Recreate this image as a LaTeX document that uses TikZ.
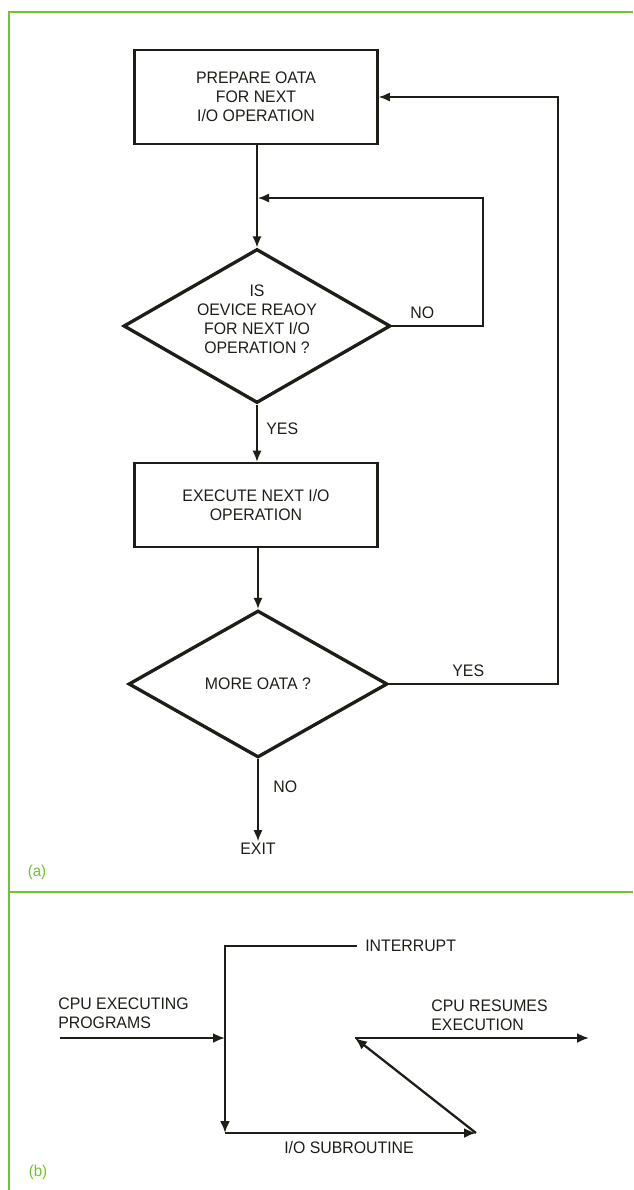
\documentclass[tikz,border=0pt]{standalone}
\usepackage{fontspec}
\setmainfont{Liberation Sans}[FakeStretch=0.95]
\usepackage{tikz}
\usetikzlibrary{arrows.meta,shapes.geometric}

\definecolor{framegreen}{RGB}{112,196,48}
\definecolor{ink}{RGB}{30,30,25}

\begin{document}
\begin{tikzpicture}[
        x=0.02cm,
        y=-0.02cm,
        font=\fontsize{9.5}{10.8}\selectfont,
        every node/.style={text=ink},
        procbox/.style={draw=ink, line width=1.5pt, minimum width=4.86cm, inner sep=0pt, align=center},
        decision/.style={diamond, draw=ink, line width=1.9pt, inner sep=0pt},
        flowtag/.style={anchor=west, inner sep=0pt},
        flow/.style={draw=ink, line width=0.75pt, -{Latex[length=2.2mm,width=1.8mm]}},
        route/.style={draw=ink, line width=1.3pt, -{Latex[length=2.4mm,width=2mm]}},
        frame/.style={draw=framegreen, line width=1.6pt},
        panel/.style={text=framegreen, font=\fontsize{9}{10}\selectfont}
    ]
        \useasboundingbox (0,0) rectangle (633,1190);

        % green frame round both panels
        \draw[frame] (633,12) -- (9,12) -- (9,1190);
        \draw[frame] (9,892) -- (633,892);
        \node[panel] (taga) at (37,872) {(a)};
        \node[panel] (tagb) at (38,1172) {(b)};

        % (a): polling loop
        \node[procbox, minimum height=1.88cm] (prep) at (256,97) {PREPARE OATA\\FOR NEXT\\I/O OPERATION};
        \node[decision, minimum width=5.34cm, minimum height=3.08cm,
            label={[align=center, yshift=0.14cm]center:{IS\\OEVICE REAOY\\FOR NEXT I/O\\OPERATION ?}}] (ready) at (257,326) {};
        \node[procbox, minimum height=1.68cm] (exec) at (256,505) {EXECUTE NEXT I/O\\OPERATION};
        \node[decision, minimum width=5.18cm, minimum height=2.94cm] (more) at (258,684) {MORE OATA ?};
        \node[inner sep=1pt] (exit) at (258,849) {EXIT};

        \node[flowtag] (noready) at (410,313) {NO};
        \node[flowtag] (yesready) at (266,429) {YES};
        \node[flowtag] (yesmore) at (452,671) {YES};
        \node[flowtag] (nomore) at (273,787) {NO};

        \coordinate (merge) at (258,198);
        \coordinate (retry) at (483,198);
        \coordinate (loop) at (558,97);

        \draw[flow] (prep.south -| ready.north) -- (ready.north);
        \draw[flow] (ready.east) -| (retry) -- (merge);
        \draw[flow] (ready.south) -- (exec.north -| ready.south);
        \draw[flow] (exec.south -| more.north) -- (more.north);
        \draw[flow] (more.east) -| (loop) -- (prep.east);
        \draw[flow] (more.south) -- (exit.north);

        % (b): interrupt timing
        \node[anchor=west, inner xsep=4.5pt, inner ysep=0pt] (intr) at (357,946) {INTERRUPT};
        \node[anchor=west, inner sep=0pt, align=left] (cpurun) at (58,1013) {CPU EXECUTING\\PROGRAMS};
        \node[anchor=west, inner sep=0pt, align=left] (cpuback) at (431,1015) {CPU RESUMES\\EXECUTION};
        \node (iosub) at (349,1148) {I/O SUBROUTINE};

        \coordinate (entry) at (60,1038);
        \coordinate (hit) at (225,1038);
        \coordinate (turn) at (225,946);
        \coordinate (subin) at (225,1133);
        \coordinate (subout) at (476,1133);
        \coordinate (resume) at (355,1038);
        \coordinate (leave) at (589,1038);

        \draw[route] (entry) -- (hit);
        \draw[route] (intr.west) -- (turn) -- (subin);
        \draw[route] (subin) -- (subout);
        \draw[route] (subout) -- (resume);
        \draw[route] (resume) -- (leave);
    \end{tikzpicture}
\end{document}
